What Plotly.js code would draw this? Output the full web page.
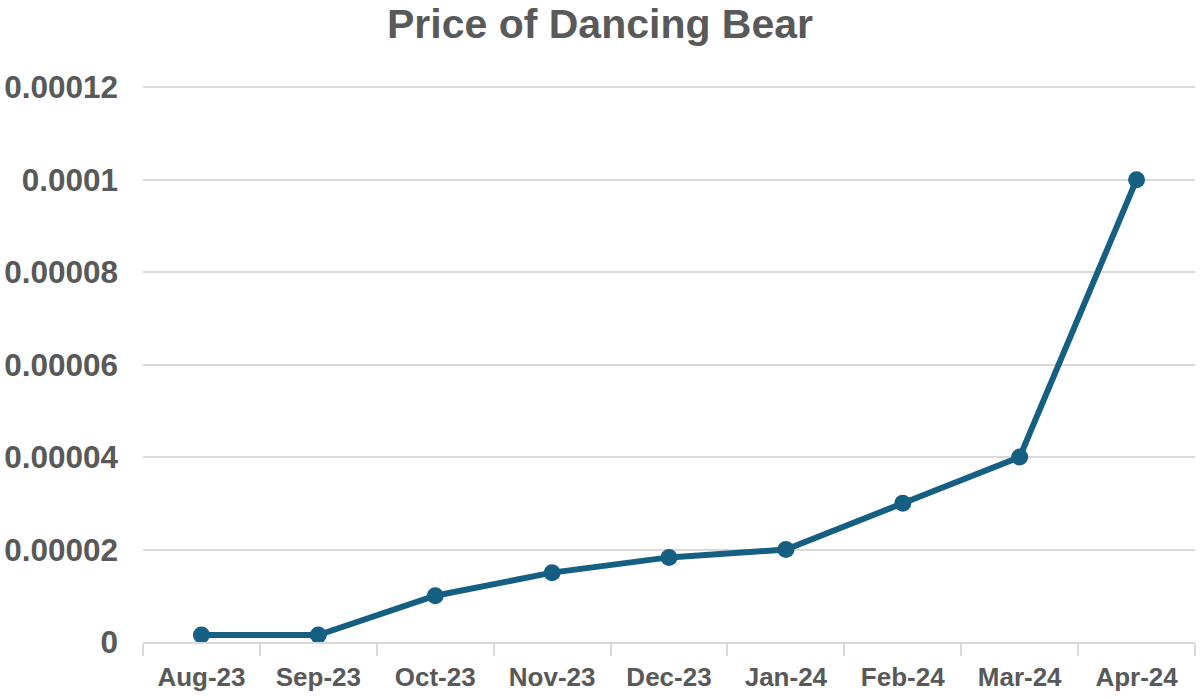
<!DOCTYPE html>
<html>
<head>
<meta charset="utf-8">
<script src="https://cdn.plot.ly/plotly-3.0.1.min.js"></script>
<style>
  body { margin: 0; background: #fff; }
  #chart { width: 1200px; height: 698px; }
</style>
</head>
<body>
<div id="chart"></div>
<script>
// data
var months = ['Aug-23', 'Sep-23', 'Oct-23', 'Nov-23', 'Dec-23', 'Jan-24', 'Feb-24', 'Mar-24', 'Apr-24'];
var prices = [0.0000015, 0.0000015, 0.00001, 0.000015, 0.0000183, 0.00002, 0.00003, 0.00004, 0.0001];
var yTicks = [0, 0.00002, 0.00004, 0.00006, 0.00008, 0.0001, 0.00012];
var yTickText = ['0', '0.00002', '0.00004', '0.00006', '0.00008', '0.0001', '0.00012'];

var lineColor = '#156082';
var textColor = '#595959';
var gridColor = '#d9d9d9';

var trace = {
    x: months,
    y: prices,
    type: 'scatter',
    mode: 'lines+markers',
    line: { color: lineColor, width: 6 },
    marker: { color: lineColor, size: 17 },
    hoverinfo: 'skip'
};

// small headroom so the 0.00012 gridline is still drawn
var yTop = 0.00012 * 1.004;

var layout = {
    width: 1200,
    height: 698,
    margin: { l: 143, r: 5, t: 85, b: 56 },
    paper_bgcolor: '#ffffff',
    plot_bgcolor: '#ffffff',
    showlegend: false,
    font: { family: 'Liberation Sans, Arial, sans-serif', color: textColor },
    title: {
        text: '<b>Price of Dancing Bear</b>',
        font: { size: 41, color: textColor, family: 'Liberation Sans, Arial, sans-serif' },
        x: 0.5,
        xanchor: 'center',
        y: 0.966,
        yanchor: 'middle'
    },
    xaxis: {
        type: 'category',
        range: [-0.5, 8.5],
        showgrid: false,
        showline: true,
        linecolor: gridColor,
        linewidth: 2,
        ticks: 'outside',
        tickson: 'boundaries',
        ticklen: 12,
        tickwidth: 2,
        tickcolor: gridColor,
        ticklabelstandoff: 11,
        tickfont: { size: 26, color: textColor, weight: 'bold' },
        zeroline: false
    },
    yaxis: {
        range: [0, yTop],
        tickmode: 'array',
        tickvals: yTicks,
        ticktext: yTickText,
        showgrid: true,
        gridcolor: gridColor,
        gridwidth: 2,
        showline: false,
        zeroline: false,
        ticks: '',
        ticklabelstandoff: 24,
        tickfont: { size: 31.5, color: textColor, weight: 'bold' }
    }
};

Plotly.newPlot('chart', [trace], layout, { staticPlot: true, displayModeBar: false });
</script>
</body>
</html>
